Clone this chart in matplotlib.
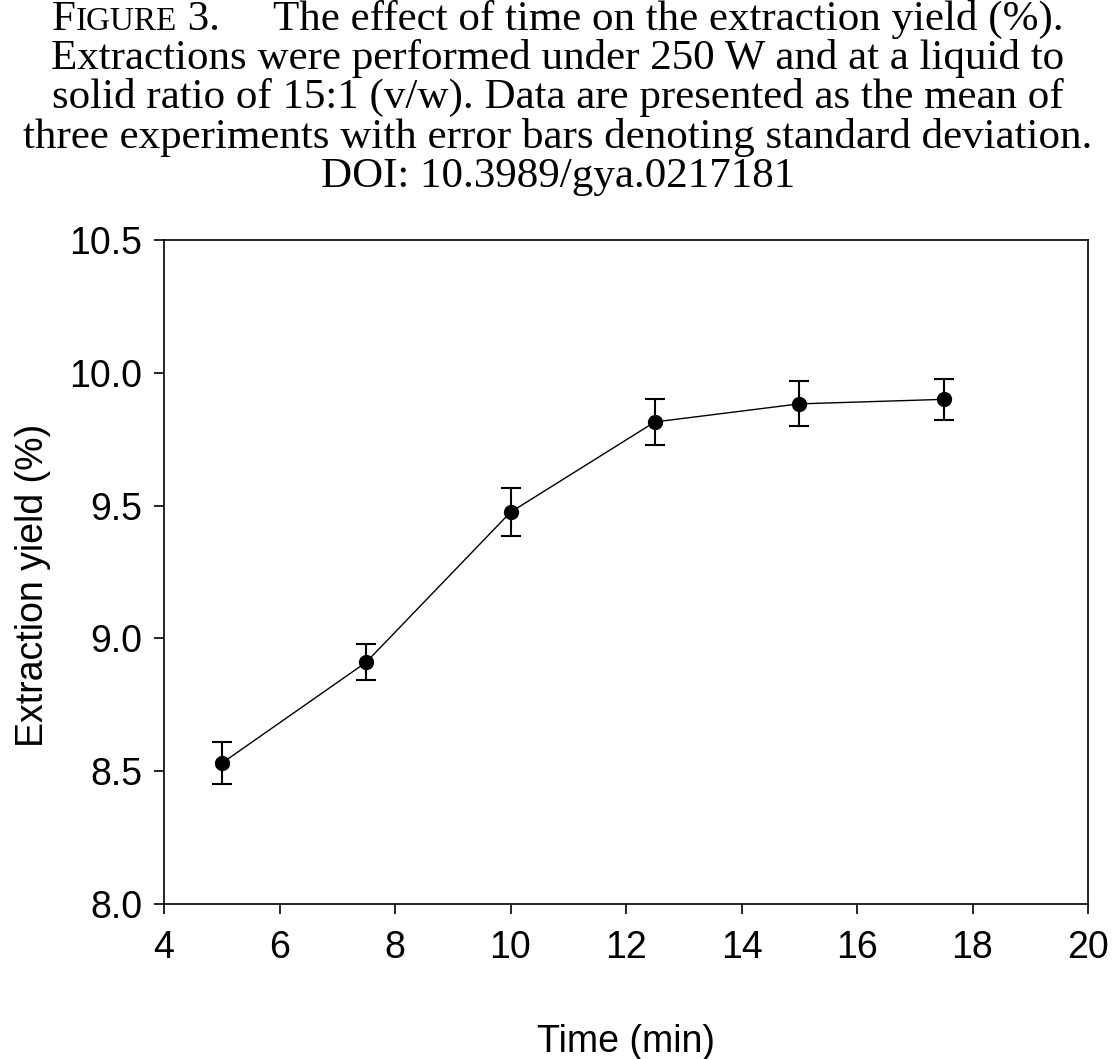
import matplotlib
matplotlib.use("Agg")
import matplotlib.pyplot as plt

# extraction yield vs time (mean of 3, SD error bars)
time_min = [5, 7.5, 10, 12.5, 15, 17.5]
yield_pct = [8.53, 8.91, 9.475, 9.815, 9.883, 9.90]
yield_sd = [0.08, 0.068, 0.09, 0.085, 0.085, 0.076]

x_ticks = [4, 6, 8, 10, 12, 14, 16, 18, 20]
y_ticks = [8.0, 8.5, 9.0, 9.5, 10.0, 10.5]

caption_lines = [
    "Extractions were performed under 250 W and at a liquid to",
    "solid ratio of 15:1 (v/w). Data are presented as the mean of",
    "three experiments with error bars denoting standard deviation.",
    "DOI: 10.3989/gya.0217181",
]

W, H = 1116, 1059
fig = plt.figure(figsize=(W / 100, H / 100), dpi=100)
ax = fig.add_axes([164 / W, 1 - 904 / H, (1088 - 164) / W, (904 - 240) / H])

ax.errorbar(time_min, yield_pct, yerr=yield_sd, fmt="o-", color="black",
            lw=1.0, ms=10, elinewidth=1.5, capsize=7, capthick=1.5)
ax.set_xlim(4, 20); ax.set_ylim(8.0, 10.5)
ax.set_xticks(x_ticks); ax.set_yticks(y_ticks)
ax.set_yticklabels([f"{v:.1f}" for v in y_ticks])
ax.tick_params(direction="out", length=7.5, width=1.2, labelsize=27, pad=8,
               top=False, right=False)
ax.tick_params(axis="x", pad=11)
for s in ax.spines.values():
    s.set_linewidth(1.2)
for lab in ax.get_xticklabels() + ax.get_yticklabels():
    lab.set_family("Liberation Sans")
ax.set_xlabel("Time (min)", fontsize=27, family="Liberation Sans", labelpad=42)
ax.set_ylabel("Extraction yield (%)", fontsize=27, family="Liberation Sans")
ax.yaxis.set_label_coords(-0.1223, 0.48)

# caption: first line with small caps "Figure"
serif = "Liberation Serif"
fs = 31
base_y = [30, 69, 108, 148, 187]
r = fig.canvas.get_renderer()
pieces = [("F", fs), ("IGURE", fs * 0.77), (" 3.     The effect of time on the extraction yield (%).", fs)]
texts = [fig.text(0, 1 - base_y[0] / H, t, fontsize=s, family=serif, va="baseline")
         for t, s in pieces]
widths = [t.get_window_extent(r).width for t in texts]
x0 = (W - sum(widths)) / 2
for t, w in zip(texts, widths):
    t.set_x(x0 / W)
    x0 += w
for line, y in zip(caption_lines, base_y[1:]):
    fig.text(0.5, 1 - y / H, line, fontsize=fs, family=serif, ha="center", va="baseline")

fig.savefig("out.png", dpi=100)
